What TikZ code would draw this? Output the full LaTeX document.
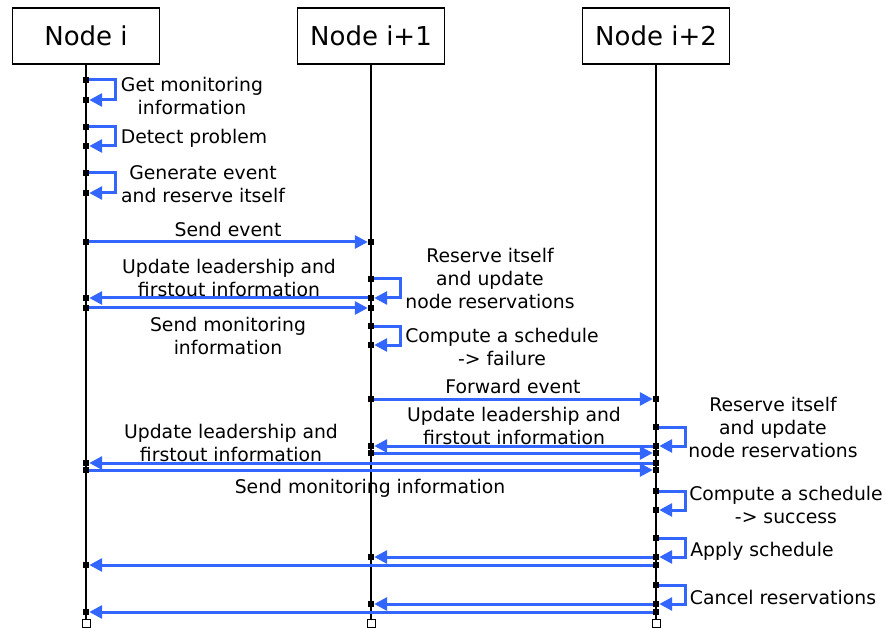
\documentclass[tikz,border=0pt]{standalone}
\usepackage{fontspec}
\setmainfont{DejaVu Sans}
\usetikzlibrary{arrows.meta}
\definecolor{msgblue}{RGB}{51,102,255}
\begin{document}
\begin{tikzpicture}[x=1pt,y=-1pt,
  header/.style={draw=black,line width=1.2pt,fill=white,minimum width=147pt,minimum height=56pt,inner sep=0pt,font={\fontsize{26}{30}\selectfont}},
  lifeline/.style={draw=black,line width=1.5pt},
  act/.style={fill=black,draw=none,minimum size=6pt,inner sep=0pt},
  endbox/.style={fill=white,draw=black,line width=1pt,minimum size=8pt,inner sep=0pt},
  msg/.style={draw=msgblue,line width=3pt,-{Triangle[length=13pt,width=13pt]}},
  lbl/.style={align=center,inner sep=0pt,font={\fontsize{18.8}{23}\selectfont}}]
\useasboundingbox (0,0) rectangle (886,628);

% participants
\node[header] (hA) at (86,36) {Node i};
\node[header] (hB) at (371,36) {Node i+1};
\node[header] (hC) at (656,36) {Node i+2};
\node[endbox] (eA) at (86,623) {};
\node[endbox] (eB) at (371,623) {};
\node[endbox] (eC) at (656,623) {};
\draw[lifeline] (hA.south) -- (eA.north);
\draw[lifeline] (hB.south) -- (eB.north);
\draw[lifeline] (hC.south) -- (eC.north);

% activation points, lifeline of Node i
\foreach \n/\y in {a1/80,a2/100,a3/127,a4/146,a5/173,a6/193,a7/242,a8/298,a9/308,a10/463,a11/470,a12/565,a13/612}
  \node[act] (\n) at (86,\y) {};
% lifeline of Node i+1
\foreach \n/\y in {b1/242,b2/279,b3/298,b4/308,b5/326,b6/345,b7/399,b8/446,b9/453,b10/557,b11/604}
  \node[act] (\n) at (371,\y) {};
% lifeline of Node i+2
\foreach \n/\y in {c1/399,c2/427,c3/446,c4/453,c5/463,c6/470,c7/491,c8/510,c9/538,c10/557,c11/565,c12/585,c13/604,c14/612}
  \node[act] (\n) at (656,\y) {};

% self messages
\foreach \s/\t in {a1/a2,a3/a4,a5/a6,b2/b3,b5/b6,c2/c3,c7/c8,c9/c10,c12/c13}
  \draw[msg] (\s.east) -- ++(26.5,0) |- (\t.east);

% messages between nodes
\draw[msg] (a7) -- (b1);
\draw[msg] (b3) -- (a8);
\draw[msg] (a9) -- (b4);
\draw[msg] (b7) -- (c1);
\draw[msg] (c3) -- (b8);
\draw[msg] (b9) -- (c4);
\draw[msg] (c5) -- (a10);
\draw[msg] (a11) -- (c6);
\draw[msg] (c10) -- (b10);
\draw[msg] (c11) -- (a12);
\draw[msg] (c13) -- (b11);
\draw[msg] (c14) -- (a13);

% labels
\node[lbl] (t1) at (192,96) {Get monitoring\\information};
\node[lbl] (t2) at (194,138) {Detect problem};
\node[lbl] (t3) at (203,184) {Generate event\\and reserve itself};
\node[lbl] (t4) at (228,229) {Send event};
\node[lbl] (t5) at (229,278) {Update leadership and\\firstout information};
\node[lbl] (t6) at (228,336) {Send monitoring\\information};
\node[lbl] (t7) at (490,278) {Reserve itself\\and update\\node reservations};
\node[lbl] (t8) at (502,347) {Compute a schedule\\-> failure};
\node[lbl] (t9) at (513,386) {Forward event};
\node[lbl] (t10) at (514,426) {Update leadership and\\firstout information};
\node[lbl] (t11) at (773,427) {Reserve itself\\and update\\node reservations};
\node[lbl] (t12) at (231,443) {Update leadership and\\firstout information};
\node[lbl] (t13) at (370,488) {Send monitoring information};
\node[lbl] (t14) at (786,505) {Compute a schedule\\-> success};
\node[lbl] (t15) at (762,551) {Apply schedule};
\node[lbl] (t16) at (783,597) {Cancel reservations};
\end{tikzpicture}
\end{document}
